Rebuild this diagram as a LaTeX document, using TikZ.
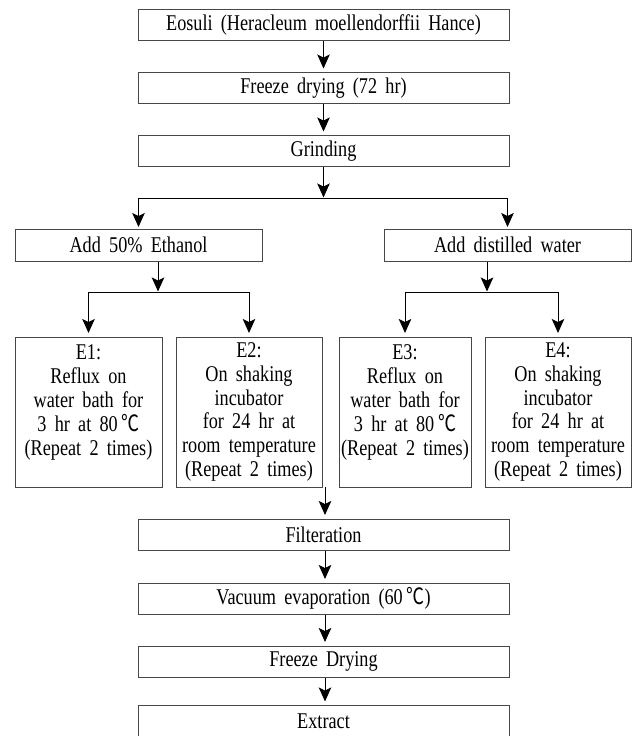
\documentclass[tikz,border=0pt]{standalone}
\usepackage{fontspec}
\setmainfont{Liberation Serif}[FakeStretch=0.81, WordSpace=1.8]
\newfontfamily\cjkfont{Noto Sans CJK KR}[FakeStretch=0.8]
\newcommand{\degc}{\,{\cjkfont ℃}}
\usetikzlibrary{arrows.meta}
\begin{document}
\begin{tikzpicture}[x=1pt, y=-1pt,
  font=\fontsize{22.5}{23.8}\selectfont,
  box/.style={draw=black!72, line width=1pt, inner sep=0pt, minimum height=31pt, align=center},
  wide/.style={box, minimum width=371pt},
  half/.style={box, minimum width=247pt, minimum height=32pt},
  ebox/.style={box, minimum height=150pt},
  arr/.style={-{Stealth[length=14pt,width=12.5pt,inset=3pt]}, line width=1pt, shorten >=3.5pt},
  ln/.style={line width=1pt}]
\useasboundingbox (0,0) rectangle (635,736);
% main column
\node[wide] (eos) at (323.5,25) {Eosuli (Heracleum moellendorffii Hance)};
\node[wide] (fd1) at (323.5,88) {Freeze drying (72 hr)};
\node[wide] (grd) at (323.5,151) {Grinding};
\coordinate (top) at (323.5,198);
\coordinate (tl) at (138.5,198);
\coordinate (tr) at (507.5,198);
\draw[arr] (eos) -- (fd1);
\draw[arr] (fd1) -- (grd);
\draw[arr, shorten >=0.5pt] (grd) -- (top);
\draw[ln] (tl) -- (tr);
% second level
\node[half] (eth) at (138.5,245) {Add 50\% Ethanol};
\node[half] (dis) at (507.5,245) {Add distilled water};
\draw[arr, shorten >=1.5pt] (tl) -- (eth.north);
\draw[arr, shorten >=1.5pt] (tr) -- (dis.north);
% left split
\coordinate (lm) at (158,292);
\coordinate (ll) at (88.5,292);
\coordinate (lr) at (249,292);
\draw[arr, shorten >=0.5pt] (eth.south -| lm) -- (lm);
\draw[ln] (ll) -- (lr);
% right split
\coordinate (rm) at (487,292);
\coordinate (rl) at (405,292);
\coordinate (rr) at (558,292);
\draw[arr, shorten >=0.5pt] (dis.south -| rm) -- (rm);
\draw[ln] (rl) -- (rr);
% extraction boxes
\node[ebox, minimum width=147pt] (e1) at (88.5,412) {E1:\\Reflux on\\water bath for\\3 hr at 80\degc\\(Repeat 2 times)\\\phantom{X}};
\node[ebox, minimum width=146pt] (e2) at (249,412) {E2:\\On shaking\\incubator\\for 24 hr at\\room temperature\\(Repeat 2 times)};
\node[ebox, minimum width=132pt] (e3) at (405,412) {E3:\\Reflux on\\water bath for\\3 hr at 80\degc\\(Repeat 2 times)\\\phantom{X}};
\node[ebox, minimum width=146pt] (e4) at (558,412) {E4:\\On shaking\\incubator\\for 24 hr at\\room temperature\\(Repeat 2 times)};
\draw[arr] (ll) -- (e1.north);
\draw[arr] (lr) -- (e2.north);
\draw[arr] (rl) -- (e3.north);
\draw[arr] (rr) -- (e4.north);
% lower column
\node[wide] (fil) at (323.5,534.5) {Filteration};
\node[wide] (vac) at (323.5,598.5) {Vacuum evaporation (60\degc)};
\node[wide] (fd2) at (323.5,661.5) {Freeze Drying};
\node[wide] (ext) at (323.5,721) {Extract};
\coordinate (emid) at (325,487);
\draw[arr] (emid) -- (emid |- fil.north);
\draw[arr] (fil.south -| emid) -- (emid |- vac.north);
\draw[arr] (vac.south -| emid) -- (emid |- fd2.north);
\draw[arr] (fd2.south -| emid) -- (emid |- ext.north);
\end{tikzpicture}
\end{document}
